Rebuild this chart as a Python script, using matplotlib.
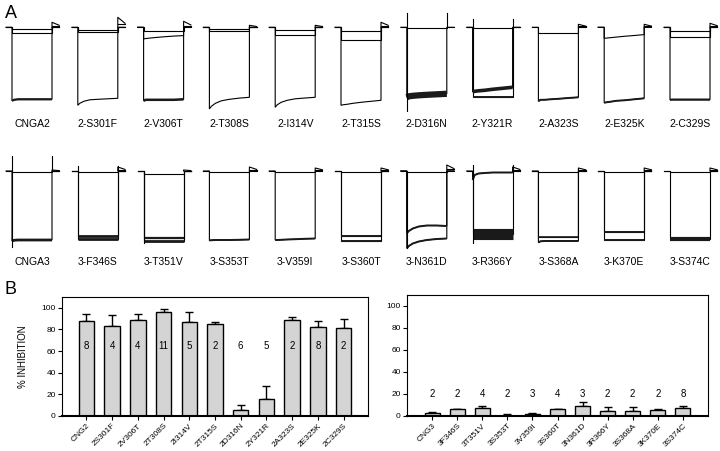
import matplotlib
matplotlib.use('Agg')
import matplotlib.pyplot as plt

plt.rcParams['font.family'] = ['Liberation Sans', 'DejaVu Sans']

# ---- panel A: current traces (values in a.u., baseline = 0) ----
T = [0, 0.05, 0.15, 0.3, 0.5, 0.75, 1.0]

row1_labels = ['CNGA2', '2-S301F', '2-V306T', '2-T308S', '2-I314V', '2-T315S',
               '2-D316N', '2-Y321R', '2-A323S', '2-E325K', '2-C329S']
row1_traces = [
    [[-73.5, -72.5, -72, -72, -72, -72, -72], [-2] * 7, [-5.5] * 7],
    [[-78, -76, -74, -72.5, -72, -71.5, -71], [-3] * 7, [-5] * 7],
    [[-73.5, -72.5, -72.5, -72.5, -72.5, -72.5, -72], [-4] * 7,
     [-11.6, -11.3, -10.8, -10.2, -9.5, -8.8, -8.3]],
    [[-81.6, -79, -76, -73.5, -72, -70.8, -70], [-1.5] * 7, [-4] * 7],
    [[-80, -77.5, -75, -73, -71.5, -70.7, -70], [-2.7] * 7, [-7.3] * 7],
    [[-78, -77.5, -77, -76, -75, -74, -73], [-4] * 7, [-12.6] * 7],
    [[-70, -69, -68.5, -68, -67.5, -67, -66.5], [-1] * 7],
    [[-70] * 7, [-64.5, -64, -63.5, -63, -62, -61, -60], [-1] * 7],
    [[-74, -72.5, -72.5, -72, -71.5, -70.7, -70], [-5.6] * 7],
    [[-75.5, -75, -74.5, -73.5, -73, -72, -71],
     [-11, -10.8, -10.4, -9.8, -9, -8.2, -7.3]],
    [[-72.5, -72.3, -72.3, -72.3, -72.3, -72.3, -72.3], [-3.3] * 7, [-9.3] * 7],
]
row1_widths = [[1.6, 0.8, 0.8], [1.0, 0.8, 0.8], [1.8, 0.8, 0.8], [1.0, 0.8, 0.8],
               [1.0, 0.8, 0.8], [1.0, 0.8, 0.8], [4.5, 0.8], [1.4, 2.6, 0.8],
               [1.4, 0.8], [1.4, 0.8], [1.6, 0.8, 0.8]]
row1_tail = [5, 10, 6, 2, 2, 5, 0, 0, 3, 3, 4]
row1_spike_up = [0, 0, 0, 0, 0, 0, 14, 8, 0, 0, 0]
row1_spike_down = [0, 0, 0, 0, 0, 0, -88, 0, 0, 0, 0]

row2_labels = ['CNGA3', '3-F346S', '3-T351V', '3-S353T', '3-V359I', '3-S360T',
               '3-N361D', '3-R366Y', '3-S368A', '3-K370E', '3-S374C']
row2_traces = [
    [[-70, -69.3, -69, -69, -69, -69, -69], [-0.5] * 7],
    [[-67.5] * 7, [-64.5] * 7, [-0.5] * 7],
    [[-70] * 7, [-67] * 7, [-3.3] * 7],
    [[-69.5, -69.2, -69, -69, -69, -68.8, -68.5], [-0.5] * 7],
    [[-69, -69, -68.8, -68.5, -68.2, -67.8, -67.5], [-0.5] * 7],
    [[-69.7] * 7, [-65] * 7, [-0.5] * 7],
    [[-77.3, -75, -72.5, -70.5, -69, -68, -67.5],
     [-62.3, -60, -57.5, -55.5, -54.5, -54.5, -55], [-0.5] * 7],
    [[-63] * 7, [-9, -4, -2.5, -2, -1.5, -1.5, -1.5]],
    [[-71.5, -70.3, -70, -70, -70, -70, -70], [-66] * 7, [-0.5] * 7],
    [[-69.3] * 7, [-61] * 7, [-0.5] * 7],
    [[-68] * 7, [-0.5] * 7],
]
row2_widths = [[2.0, 0.8], [2.0, 2.0, 0.8], [2.0, 1.6, 0.8], [1.4, 0.8],
               [1.4, 0.8], [1.4, 1.4, 0.8], [1.4, 1.4, 0.8], [8.0, 1.4],
               [1.4, 1.2, 0.8], [1.4, 1.4, 0.8], [3.0, 0.8]]
row2_tail = [1, 4, 1, 4, 3, 3, 6, 4, 3, 3, 3]
row2_spike_up = [15, 5, 0, 0, 0, 0, 0, 6, 0, 0, 0]
row2_spike_down = [-76, 0, -72, 0, 0, 0, -77, -72, 0, 0, 0]

# ---- panel B: % inhibition ----
left_names = ['CNG2', '2S301F', '2V306T', '2T308S', '2I314V', '2T315S',
              '2D316N', '2Y321R', '2A323S', '2E325K', '2C329S']
left_vals = [88, 83.5, 89, 96, 87, 85, 6, 15.5, 89, 82.5, 81.5]
left_err = [6.5, 10, 5, 2.5, 9, 1.5, 4, 12.5, 2.5, 5.5, 8]
left_n = [8, 4, 4, 11, 5, 2, 6, 5, 2, 8, 2]

right_names = ['CNG3', '3F346S', '3T351V', '3S353T', '3V359I', '3S360T',
               '3N361D', '3R366Y', '3S368A', '3K370E', '3S374C']
right_vals = [2.4, 6.2, 7.5, 0.4, 2.1, 6, 9, 4.8, 4.5, 5.8, 6.9]
right_err = [0.9, 0.4, 1.2, 1.1, 0.9, 0.3, 3.6, 3, 3.6, 0.2, 1.8]
right_n = [2, 2, 4, 2, 3, 4, 3, 2, 2, 2, 8]

W, H = 720, 451
fig = plt.figure(figsize=(W / 100, H / 100), dpi=100)


def draw_trace_row(baseline_px, label_y, labels, traces, widths, tails, sp_up, sp_down):
    for i, lab in enumerate(labels):
        lv = 12 + i * 65.8
        ax = fig.add_axes([(lv - 8) / W, 1 - (baseline_px + 85) / H, 58 / W, 105 / H])
        ax.set_xlim(-0.2, 1.25)
        ax.set_ylim(-85, 20)
        ax.axis('off')
        for tr, lw in zip(traces[i], widths[i]):
            xs = [-0.15, 0, 0] + T + [1, 1.18]
            ys = [0, 0, tr[0]] + tr + [0, 0]
            ax.plot(xs, ys, color='black', lw=0.8, solid_joinstyle='miter')
            if lw > 1:
                ax.plot(T, tr, color='#1a1a1a', lw=lw, solid_capstyle='butt')
        if sp_up[i] or sp_down[i]:
            ax.plot([0, 0], [sp_up[i], sp_down[i]], color='black', lw=0.8)
            ax.plot([1, 1], [0, sp_up[i]], color='black', lw=0.8)
        h = tails[i]
        if h:
            ax.plot([1, 1, 1.18], [0, h, 0.4 * h], color='black', lw=0.8)
            ax.plot([1, 1.18], [0.3 * h, 0.3 * h], color='black', lw=0.8)
        fig.text((lv + 20) / W, 1 - label_y / H, lab, ha='center', va='center',
                 fontsize=7.5)


draw_trace_row(27.3, 124, row1_labels, row1_traces, row1_widths, row1_tail,
               row1_spike_up, row1_spike_down)
draw_trace_row(171, 262, row2_labels, row2_traces, row2_widths, row2_tail,
               row2_spike_up, row2_spike_down)

fig.text(5 / W, 1 - 13 / H, 'A', fontsize=13, va='center', ha='left')
fig.text(5 / W, 1 - 289 / H, 'B', fontsize=13, va='center', ha='left')


def bar_panel(rect, names, vals, errs, counts, count_y, xlim):
    ax = fig.add_axes(rect)
    x = list(range(len(names)))
    ax.bar(x, vals, width=0.6, color='#d4d4d4', edgecolor='black', linewidth=1.0,
           zorder=2)
    ax.errorbar(x, vals, yerr=[[0] * len(x), errs], fmt='none', ecolor='black',
                elinewidth=1.0, capsize=3, capthick=1.0, zorder=1)
    for xi, n in zip(x, counts):
        ax.text(xi, count_y, str(n), ha='center', va='center', fontsize=7)
    ax.set_xlim(*xlim)
    ax.set_ylim(0, 110)
    ax.set_yticks([0, 20, 40, 60, 80, 100])
    ax.set_xticks(x)
    ax.set_xticklabels(names, rotation=45, ha='right', rotation_mode='anchor',
                       fontsize=6)
    ax.tick_params(axis='y', labelsize=6, length=3, width=0.8, pad=1.5)
    ax.tick_params(axis='x', length=3, width=0.8, pad=1.5)
    for s in ['top', 'right', 'left']:
        ax.spines[s].set_linewidth(0.8)
    ax.spines['bottom'].set_linewidth(1.5)
    return ax


axl = bar_panel([62 / W, 1 - 416 / H, 306 / W, 119 / H], left_names, left_vals,
                left_err, left_n, 65, (-0.95, 10.95))
axl.set_ylabel('% INHIBITION', fontsize=7, labelpad=10)
bar_panel([407 / W, 1 - 416 / H, 301 / W, 121 / H], right_names, right_vals,
          right_err, right_n, 20, (-1.0, 11.0))

fig.savefig('out.png', dpi=100)
